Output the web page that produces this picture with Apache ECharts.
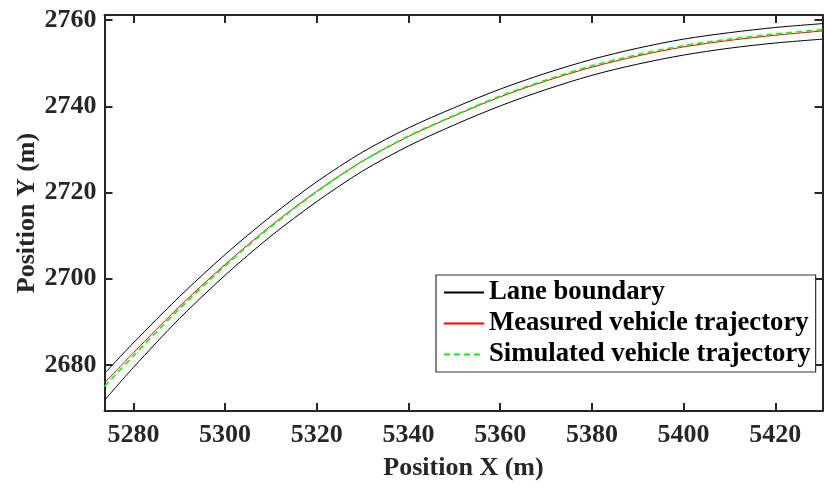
<!DOCTYPE html>
<html>
<head>
<meta charset="utf-8">
<script src="https://cdn.jsdelivr.net/npm/echarts@6/dist/echarts.min.js"></script>
<style>html,body{margin:0;padding:0;background:#fff;}#c{width:824px;height:488px;}</style>
</head>
<body>
<div id="c"></div>
<script>
var posX = [5273.7, 5280, 5290, 5300, 5310, 5320, 5330, 5340, 5350, 5360, 5370, 5380, 5390, 5400, 5410, 5420, 5430.3];
var upperBoundary = [2678.0, 2685.1, 2695.8, 2705.6, 2714.5, 2722.5, 2729.4, 2735.0, 2739.7, 2744.0, 2747.7, 2750.9, 2753.5, 2755.6, 2757.1, 2758.3, 2759.2];
var lowerBoundary = [2671.8, 2679.4, 2690.7, 2700.8, 2709.9, 2717.9, 2725.0, 2730.8, 2735.7, 2740.1, 2743.9, 2747.2, 2749.8, 2751.9, 2753.5, 2754.7, 2755.6];
var measuredY = [2675.8, 2682.8, 2693.5, 2703.3, 2712.3, 2720.3, 2727.3, 2733.0, 2737.8, 2742.2, 2745.9, 2749.1, 2751.7, 2753.8, 2755.3, 2756.5, 2757.5];
var simulatedY = [2675.0, 2682.1, 2693.0, 2703.0, 2712.1, 2720.2, 2727.3, 2733.1, 2737.9, 2742.4, 2746.1, 2749.4, 2752.0, 2754.1, 2755.6, 2756.8, 2757.8];
var xRange = [5273.7, 5430.3];
var yRange = [2669.3, 2761.2];
var xTicks = [5280, 5300, 5320, 5340, 5360, 5380, 5400, 5420];
var yTicks = [2680, 2700, 2720, 2740, 2760];
var legendNames = ['Lane boundary', 'Measured vehicle trajectory', 'Simulated vehicle trajectory'];
var xTitle = 'Position X (m)';
var yTitle = 'Position Y (m)';

function pairs(xs, ys) { return xs.map(function (x, i) { return [x, ys[i]]; }); }
var FONT = '"Liberation Serif", "Times New Roman", serif';
var AX = '#262626';

function mkAxis(pos, range, ticks, name, show, nameGap) {
  return {
    type: 'value', position: pos, min: range[0], max: range[1],
    name: show ? name : '', nameLocation: 'middle', nameGap: nameGap, nameMoveOverlap: false,
    nameTextStyle: { fontFamily: FONT, fontWeight: 'bold', fontSize: 26, color: AX },
    axisLine: { show: true, onZero: false, lineStyle: { color: AX, width: 2 } },
    axisTick: { show: true, inside: true, length: 8, customValues: ticks, lineStyle: { color: AX, width: 2 } },
    axisLabel: { show: show, customValues: ticks, formatter: function (v) { return String(Math.round(v)); },
                 fontFamily: FONT, fontWeight: 'bold', fontSize: 26, color: AX,
                 margin: (pos === 'bottom' ? 11 : 8) },
    splitLine: { show: false }
  };
}

var chart = echarts.init(document.getElementById('c'), null, { renderer: 'canvas' });
chart.setOption({
  animation: false,
  backgroundColor: '#fff',
  grid: { left: 104.5, right: 1.5, top: 15, bottom: 77, containLabel: false, outerBoundsMode: 'none' },
  xAxis: [mkAxis('bottom', xRange, xTicks, xTitle, true, 44), mkAxis('top', xRange, xTicks, '', false, 0)],
  yAxis: [mkAxis('left', yRange, yTicks, yTitle, true, 64), mkAxis('right', yRange, yTicks, '', false, 0)],
  legend: {
    orient: 'vertical', left: 436, top: 275,
    data: legendNames,
    itemWidth: 40, itemHeight: 14, itemGap: 4,
    padding: [4, 5, 4, 7],
    borderColor: '#333', borderWidth: 1.2, backgroundColor: '#fff',
    itemStyle: { color: 'rgba(0,0,0,0)', borderColor: 'rgba(0,0,0,0)', borderWidth: 0, opacity: 0 },
    textStyle: { fontFamily: FONT, fontWeight: 'bold', fontSize: 26.7, color: '#000' }
  },
  series: [
    { name: legendNames[0], type: 'line', data: pairs(posX, upperBoundary), showSymbol: false, symbol: 'none', smooth: 0.3,
      lineStyle: { color: '#000', width: 1 }, itemStyle: { color: '#000' }, z: 2 },
    { name: legendNames[0], type: 'line', data: pairs(posX, lowerBoundary), showSymbol: false, symbol: 'none', smooth: 0.3,
      lineStyle: { color: '#000', width: 1 }, itemStyle: { color: '#000' }, z: 2 },
    { name: legendNames[1], type: 'line', data: pairs(posX, measuredY), showSymbol: false, symbol: 'none', smooth: 0.3,
      lineStyle: { color: '#ff0000', width: 1 }, itemStyle: { color: '#ff0000' }, z: 3 },
    { name: legendNames[2], type: 'line', data: pairs(posX, simulatedY), showSymbol: false, symbol: 'none', smooth: 0.3,
      lineStyle: { color: '#00ff00', width: 1.6, type: [6, 4] }, itemStyle: { color: '#00ff00' }, z: 4 }
  ]
});
</script>
</body>
</html>
